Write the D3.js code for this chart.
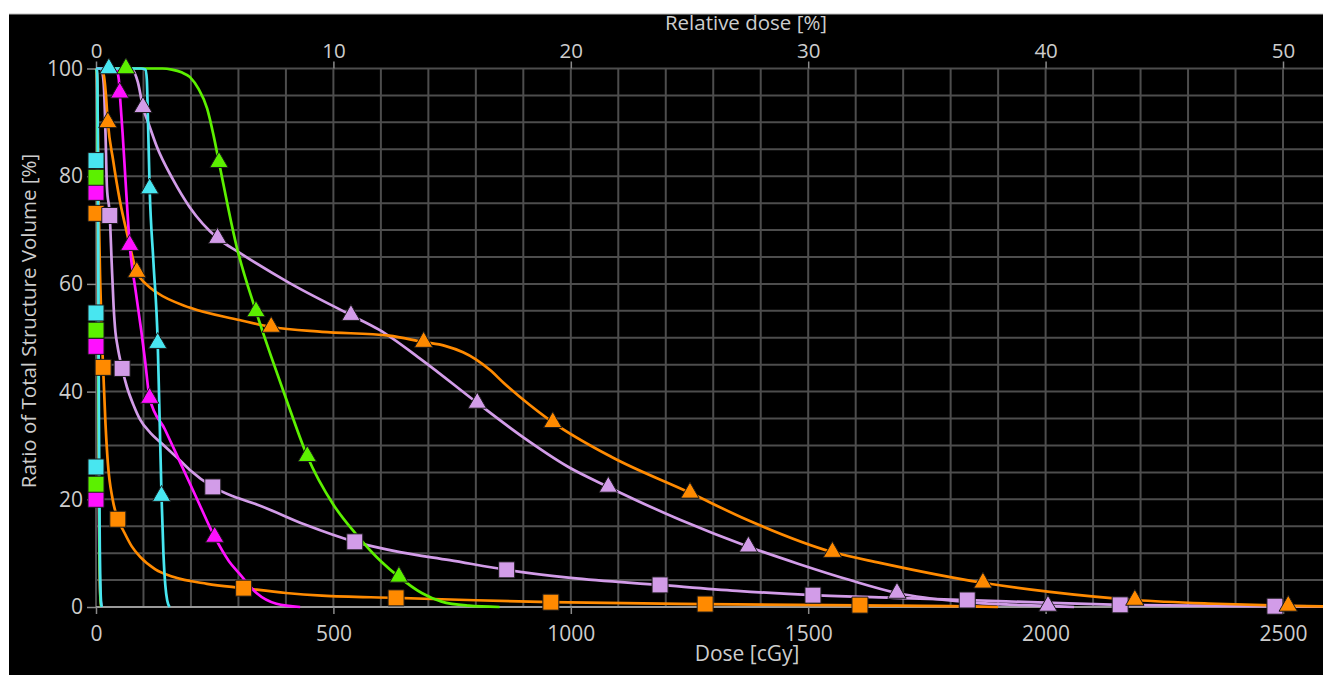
<!DOCTYPE html>
<html>
<head>
<meta charset="utf-8">
<script src="https://cdn.jsdelivr.net/npm/d3@7"></script>
<style>
  body { margin: 0; background: #fff; overflow: hidden; }
  text { font-family: "Open Sans", "Noto Sans", sans-serif; fill: #cdcdcd; }
</style>
</head>
<body>
<script>
let W = 1323, H = 675;

// DVH curves: [dose cGy, volume %]
let cyanSquare = [[0,100],[2,99.6],[3,97],[4,85],[5,60],[6,38],[7,22],[8,11],[9,5],[10,2],[12,0]];
let greenSquare = [[0,100],[1.5,99.5],[2.5,95],[3.5,80],[4.5,55],[5.5,32],[6.5,18],[7.5,8],[9,2],[11,0]];
let magentaSquare = [[0,100],[1.5,99.5],[2.5,94],[3.5,78],[4.5,52],[5.5,28],[6.5,14],[8,5],[10,1],[12,0]];
let orangeSquare = [[0,100],[2,99],[3.5,92],[5,80],[6,73],[9,60],[12,51],[15,44.5],[20,34],[25,26.7],[35,20],[46,16.3],
    [57,14.3],[75,11.3],[93,9.3],[125,7],[162,5.6],[234,4.3],[311,3.5],[400,2.6],[476,2.1],[632,1.7],[800,1.25],
    [958,0.9],[1283,0.55],[1609,0.3],[1847,0.1],[1900,0]];
let lavenderSquare = [[0,100],[10,100],[14,99],[17,96],[20,88],[23,78],[29,72.7],[33,64],[37,56],[41,51],[45,48.6],
    [55,44.3],[65,40.9],[80,37.3],[93,34.8],[115,32.3],[138,30.4],[170,27.8],[197,25.5],[246,22.3],[290,20.5],
    [340,19],[440,15.3],[545,12.1],[640,10.2],[745,8.7],[865,6.9],[1000,5.4],[1188,4.1],[1350,3],[1510,2.2],
    [1680,1.7],[1835,1.3],[2000,0.8],[2157,0.4],[2320,0.25],[2483,0.15],[2620,0.1]];

let cyanTriangle = [[0,100],[95,100],[104,99.8],[107,98],[109,92],[113,77.7],[121,64],[130,49],[134,35],[138,20.6],
    [142,10],[146,4],[150,1.2],[155,0]];
let greenTriangle = [[0,100],[140,100],[160,99.8],[180,99.3],[198,98.4],[216,96.2],[234,92.6],[248,87.4],[259,82.6],
    [296,67],[337,54.9],[369,46.5],[405,37.5],[445,28],[500,19],[548,13.5],[600,8.5],[638,5.6],[686,2.6],[728,1],
    [785,0.25],[850,0]];
let magentaTriangle = [[0,100],[38,100],[44,99.5],[48,98],[50,95.5],[56,88],[63,78],[71,67.2],[83,59],[95,51.5],
    [103,46],[113,38.8],[145,33],[176,27.1],[212,20.2],[250,13],[280,8.5],[302,6.2],[338,2.6],[380,0.6],[430,0]];
let orangeTriangle = [[0,100],[12,100],[17,98.5],[21,95],[23,92.4],[25,90],[36,83],[50,75.6],[65,69.5],[86,62.2],
    [105,60],[128,58.4],[197,55.6],[302,53.3],[369,52],[476,51.1],[617,50.4],[690,49.2],[735,48.5],[773,47.3],
    [800,46],[830,44],[860,41.5],[893,39],[962,34.3],[1085,27.9],[1251,21.2],[1371,16.2],[1551,10.2],[1651,8.2],
    [1868,4.5],[2009,2.8],[2188,1.3],[2360,0.6],[2511,0.2],[2620,0.05]];
let lavenderTriangle = [[0,100],[65,100],[78,99.6],[88,97.5],[99,92.8],[113,89.2],[128,85.5],[162,79.4],[197,74.3],
    [256,68.5],[302,65.8],[407,60.2],[537,54.2],[596,51.5],[686,45.9],[803,37.9],[900,31.5],[995,26],[1079,22.3],
    [1230,16.2],[1374,11.2],[1480,8],[1588,5],[1687,2.6],[1835,0.9],[2005,0.2],[2060,0]];

// marker positions on each curve
let cyanSquareMarks = [[0,82.9],[0,54.6],[0,26]];
let greenSquareMarks = [[0,79.8],[0,51.4],[0,22.8]];
let magentaSquareMarks = [[0,77],[0,48.4],[0,20]];
let orangeSquareMarks = [[0,73.1],[15,44.5],[46,16.3],[311,3.5],[632,1.7],[958,0.9],[1283,0.55],[1609,0.35]];
let lavenderSquareMarks = [[29,72.7],[55,44.3],[246,22.3],[545,12.1],[865,6.9],[1188,4.1],[1510,2.2],[1835,1.3],[2157,0.4],[2483,0.15]];
let cyanTriangleMarks = [[27,100],[113,77.7],[130,49],[138,20.6]];
let greenTriangleMarks = [[63,100],[259,82.6],[337,54.9],[445,28],[638,5.6]];
let magentaTriangleMarks = [[50,95.5],[71,67.2],[113,38.8],[250,13]];
let orangeTriangleMarks = [[25,90],[86,62.2],[369,52],[690,49.2],[962,34.3],[1251,21.2],[1551,10.2],[1868,4.5],[2188,1.3],[2511,0.2]];
let lavenderTriangleMarks = [[99,92.8],[256,68.5],[537,54.2],[803,37.9],[1079,22.3],[1374,11.2],[1687,2.6],[2005,0.2]];

let doseTicks = [0, 500, 1000, 1500, 2000, 2500];
let relTicks = [0, 10, 20, 30, 40, 50];
let volTicks = [0, 20, 40, 60, 80, 100];

let series = [
    {line: orangeSquare, marks: orangeSquareMarks, color: "#ff8a00", shape: "square"},
    {line: lavenderSquare, marks: lavenderSquareMarks, color: "#d29ce8", shape: "square"},
    {line: magentaSquare, marks: magentaSquareMarks, color: "#ff10ff", shape: "square"},
    {line: greenSquare, marks: greenSquareMarks, color: "#5cf000", shape: "square"},
    {line: cyanSquare, marks: cyanSquareMarks, color: "#48e6f0", shape: "square"},
    {line: lavenderTriangle, marks: lavenderTriangleMarks, color: "#d29ce8", shape: "triangle"},
    {line: orangeTriangle, marks: orangeTriangleMarks, color: "#ff8a00", shape: "triangle"},
    {line: greenTriangle, marks: greenTriangleMarks, color: "#5cf000", shape: "triangle"},
    {line: magentaTriangle, marks: magentaTriangleMarks, color: "#ff10ff", shape: "triangle"},
    {line: cyanTriangle, marks: cyanTriangleMarks, color: "#48e6f0", shape: "triangle"},
];

let x0 = 96, pxPerCGy = 0.4748;
let x = d3.scaleLinear().domain([0, 2620]).range([x0, x0 + 2620 * pxPerCGy]);
let xRel = d3.scaleLinear().domain([0, 52.4]).range(x.range());
let y = d3.scaleLinear().domain([0, 100]).range([607, 68.5]);

let svg = d3.select("body").append("svg")
    .attr("width", W)
    .attr("height", H)

svg.append("rect")
    .attr("x", 9).attr("y", 14)
    .attr("width", W - 9).attr("height", H - 14)
    .attr("fill", "#000")
svg.append("line")
    .attr("x1", 9).attr("x2", W).attr("y1", 14).attr("y2", 14)
    .attr("stroke", "#bbb").attr("stroke-width", 1)

// grid
let grid = svg.append("g")
grid.selectAll(".vg")
    .data(d3.range(0, 2700, 100))
    .enter().append("line")
    .attr("x1", d => x(d)).attr("x2", d => x(d))
    .attr("y1", y(100)).attr("y2", y(0))
    .attr("stroke", "#4d4d4d").attr("stroke-width", 2)
grid.selectAll(".hg")
    .data(d3.range(5, 101, 5))
    .enter().append("line")
    .attr("x1", x(0)).attr("x2", W)
    .attr("y1", d => y(d)).attr("y2", d => y(d))
    .attr("stroke", "#4d4d4d").attr("stroke-width", 2)
grid.append("line")
    .attr("x1", x(0)).attr("x2", W)
    .attr("y1", y(0)).attr("y2", y(0))
    .attr("stroke", "#9a9a9a").attr("stroke-width", 2)

// axes
function styleAxis(g, size) {
    g.select(".domain").remove();
    g.selectAll(".tick line").attr("stroke", "#8a8a8a").attr("stroke-width", 1.5);
    g.selectAll(".tick text").attr("fill", "#cdcdcd").attr("font-size", size)
        .attr("font-family", "'Open Sans', sans-serif");
}

svg.append("g")
    .attr("transform", `translate(0,${y(0)})`)
    .call(d3.axisBottom(x).tickValues(doseTicks).tickFormat(d3.format("d")).tickSize(7).tickPadding(12))
    .call(styleAxis, "21px")

svg.append("g")
    .attr("transform", `translate(0,${y(100)})`)
    .call(d3.axisTop(xRel).tickValues(relTicks).tickFormat(d3.format("d")).tickSize(7).tickPadding(4))
    .call(styleAxis, "20.5px")

svg.append("g")
    .attr("transform", `translate(${x0},0)`)
    .call(d3.axisLeft(y).tickValues(volTicks).tickFormat(d3.format("d")).tickSize(9).tickPadding(4))
    .call(styleAxis, "21px")

// axis titles
svg.append("text")
    .attr("x", 746).attr("y", 29.5)
    .attr("text-anchor", "middle").attr("font-size", "20.5px")
    .text("Relative dose [%]")
svg.append("text")
    .attr("x", 747).attr("y", 661)
    .attr("text-anchor", "middle").attr("font-size", "21px")
    .text("Dose [cGy]")
svg.append("text")
    .attr("transform", "translate(36,321) rotate(-90)")
    .attr("text-anchor", "middle").attr("font-size", "20.5px")
    .text("Ratio of Total Structure Volume [%]")

// curves
let line = d3.line()
    .x(d => x(d[0]))
    .y(d => y(d[1]))
    .curve(d3.curveMonotoneX)

let plot = svg.append("g")

plot.selectAll(".curve")
    .data(series)
    .enter().append("path")
    .attr("d", d => line(d.line))
    .attr("fill", "none")
    .attr("stroke", d => d.color)
    .attr("stroke-width", 2.7)

let sq = d3.symbol(d3.symbolSquare, 256);
let tri = d3.symbol(d3.symbolTriangle, 145);

series.forEach(s => {
    plot.selectAll(null)
        .data(s.marks)
        .enter().append("path")
        .attr("d", s.shape === "square" ? sq : tri)
        .attr("transform", d => `translate(${x(d[0])},${y(d[1])})`)
        .attr("fill", s.color)
        .attr("stroke", "#1a1a1a")
        .attr("stroke-width", 1)
})
</script>
</body>
</html>
